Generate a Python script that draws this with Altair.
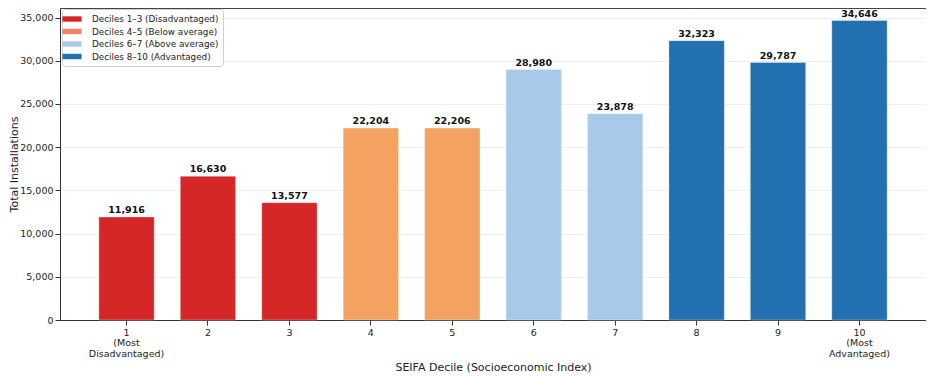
import altair as alt
import pandas as pd

deciles = ["1", "2", "3", "4", "5", "6", "7", "8", "9", "10"]
installations = [11916, 16630, 13577, 22204, 22206, 28980, 23878, 32323, 29787, 34646]
groups = ["Deciles 1–3 (Disadvantaged)"] * 3 + ["Deciles 4–5 (Below average)"] * 2 + \
         ["Deciles 6–7 (Above average)"] * 2 + ["Deciles 8–10 (Advantaged)"] * 3
group_names = ["Deciles 1–3 (Disadvantaged)", "Deciles 4–5 (Below average)",
               "Deciles 6–7 (Above average)", "Deciles 8–10 (Advantaged)"]
bar_colors = ["#d62728", "#f4a261", "#a8c9e9", "#2270b0"]
legend_colors = ["#d62728", "#f4826b", "#a8c9e9", "#2270b0"]
y_ticks = [0, 5000, 10000, 15000, 20000, 25000, 30000, 35000]

df = pd.DataFrame({"decile": deciles, "value": installations, "group": groups})
df["label"] = [f"{v:,}" for v in installations]
leg_df = pd.DataFrame({"decile": ["1"] * 4, "legend": group_names, "value": [0] * 4})

FONT = "DejaVu Sans"

label_expr = ("datum.value == '1' ? ['1', '(Most', 'Disadvantaged)'] : "
              "(datum.value == '10' ? ['10', '(Most', 'Advantaged)'] : datum.value)")

x = alt.X("decile:N", sort=deciles, title="SEIFA Decile (Socioeconomic Index)",
          scale=alt.Scale(paddingInner=0.32, paddingOuter=0.477),
          axis=alt.Axis(labelAngle=0, labelExpr=label_expr, labelFont=FONT,
                        labelFontSize=9.5, labelColor="#222", tickColor="#333",
                        domainColor="#333", titleFont=FONT, titleFontSize=11,
                        titleFontWeight="normal", titleColor="#222", titlePadding=4,
                        labelLineHeight=10.5, grid=False))
y = alt.Y("value:Q", title="Total Installations",
          scale=alt.Scale(domain=[0, 36100], nice=False),
          axis=alt.Axis(values=y_ticks, labelExpr="format(datum.value, ',')",
                        labelFont=FONT, labelFontSize=9.5, labelColor="#222",
                        tickColor="#333", domainColor="#333", gridColor="#efefef",
                        titleFont=FONT, titleFontSize=11, titleFontWeight="normal",
                        titleColor="#222", titlePadding=0))

bars = alt.Chart(df).mark_bar(stroke="white", strokeOpacity=0.4, strokeWidth=0.8).encode(
    x=x, y=y,
    color=alt.Color("group:N", scale=alt.Scale(domain=group_names, range=bar_colors), legend=None),
)

texts = alt.Chart(df).mark_text(baseline="alphabetic", dy=-4, font=FONT, fontSize=9.5,
                                fontWeight="bold", color="#111").encode(
    x=x, y=y, text="label:N"
)

legend_layer = alt.Chart(leg_df).mark_bar().encode(
    x=x, y=y,
    fill=alt.Fill("legend:N", scale=alt.Scale(domain=group_names, range=legend_colors),
                  legend=alt.Legend(title=None, orient="none", legendX=2, legendY=1,
                                    labelFont=FONT, labelFontSize=8.8, labelColor="#222",
                                    symbolType="M-1.6,-0.45L1.6,-0.45L1.6,0.45L-1.6,0.45Z",
                                    symbolSize=144, symbolStrokeWidth=0, symbolOpacity=1,
                                    labelOffset=14, rowPadding=1.5, padding=4, fillColor="white",
                                    strokeColor="#d0d0d0", cornerRadius=3)),
)

chart = alt.layer(bars, texts, legend_layer).resolve_scale(color="independent").properties(
    width=866, height=312,
    autosize=alt.AutoSizeParams(type="none"),
    padding={"left": 52, "top": 0, "right": 0, "bottom": 56}
).configure_view(stroke="#444", strokeWidth=1)

chart.save("out.html", embed_options={"renderer": "svg", "actions": False})
